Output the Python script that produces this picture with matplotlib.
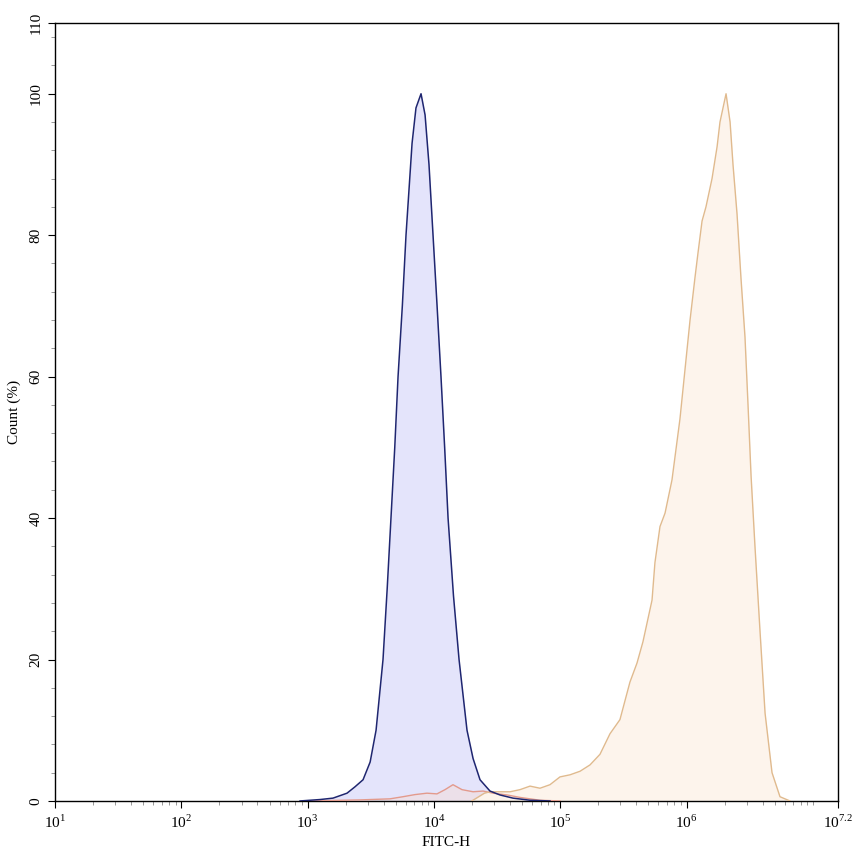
import numpy as np
import matplotlib
matplotlib.use("Agg")
import matplotlib.pyplot as plt
from matplotlib.ticker import MultipleLocator, NullFormatter

plt.rcParams["font.family"] = ["Liberation Serif", "DejaVu Serif"]
plt.rcParams["mathtext.fontset"] = "custom"
plt.rcParams["mathtext.rm"] = "Liberation Serif"

# histogram traces, x as log10(FITC-H), y as Count (%)
blue_log = [2.94, 3.098, 3.201, 3.312, 3.375, 3.439, 3.495, 3.542, 3.597, 3.630,
            3.660, 3.690, 3.716, 3.750, 3.779, 3.827, 3.858, 3.898, 3.930, 3.961,
            3.993, 4.025, 4.056, 4.085, 4.112, 4.155, 4.199, 4.262, 4.310, 4.365,
            4.444, 4.523, 4.626, 4.761, 4.919]
blue_pct = [0, 0.2, 0.4, 1.1, 2.0, 3.0, 5.5, 10, 20, 30,
            40, 50, 60, 70, 80, 93, 98, 100, 97, 90,
            80, 70, 60, 50, 40, 29, 20, 10, 6, 3,
            1.4, 0.85, 0.4, 0.1, 0]

red_log = [2.98, 3.415, 3.652, 3.755, 3.850, 3.945, 4.024, 4.088, 4.151, 4.222,
           4.310, 4.389, 4.468, 4.579, 4.682, 4.840, 5.0]
red_pct = [0, 0.15, 0.3, 0.6, 0.9, 1.1, 1.0, 1.6, 2.3, 1.6,
           1.3, 1.4, 1.1, 0.85, 0.5, 0.1, 0]

orange_log = [4.30, 4.40, 4.444, 4.603, 4.682, 4.761, 4.840, 4.919, 4.998, 5.078,
              5.157, 5.236, 5.315, 5.394, 5.473, 5.552, 5.608, 5.655, 5.727, 5.750,
              5.790, 5.830, 5.885, 5.948, 5.988, 6.028, 6.067, 6.091, 6.123, 6.154,
              6.202, 6.242, 6.265, 6.313, 6.345, 6.368, 6.400, 6.431, 6.463, 6.487,
              6.511, 6.542, 6.582, 6.622, 6.677, 6.740, 6.819]
orange_pct = [0, 1.1, 1.3, 1.3, 1.6, 2.1, 1.8, 2.3, 3.4, 3.7,
              4.2, 5.1, 6.6, 9.5, 11.5, 16.8, 19.5, 22.5, 28.4, 33.7,
              38.8, 40.7, 45.4, 54, 61, 68, 74, 77.5, 82, 84,
              88, 92.5, 96, 100, 96, 90, 83, 74, 65.6, 56,
              46, 36, 24, 12.4, 4, 0.6, 0]

ytick_vals = [0, 20, 40, 60, 80, 100, 110]
xtick_exp = [1, 2, 3, 4, 5, 6, 7.2]
xtick_labels = ["$10^{1}$", "$10^{2}$", "$10^{3}$", "$10^{4}$",
                "$10^{5}$", "$10^{6}$", "$10^{7.2}$"]

fig = plt.figure(figsize=(8.53, 8.56), dpi=100)
ax = fig.add_axes([0.0645, 0.0643, 0.918, 0.9088])

bx = 10 ** np.array(blue_log)
rx = 10 ** np.array(red_log)
ox = 10 ** np.array(orange_log)

ax.fill_between(bx, blue_pct, color="#e4e4fb", lw=0, zorder=1)
ax.fill_between(rx, red_pct, color="#f3dede", alpha=0.6, lw=0, zorder=2)
ax.fill_between(ox, orange_pct, color="#fdf4ec", lw=0, zorder=2)
ax.plot(rx, red_pct, color="#e39a8c", lw=1.0, zorder=3)
ax.plot(ox, orange_pct, color="#e0ba8e", lw=1.0, zorder=3)
ax.plot(bx, blue_pct, color="#1f2670", lw=1.1, zorder=4)

ax.set_xscale("log")
ax.set_xlim(10, 10 ** 7.2)
ax.set_ylim(0, 110)

ax.set_xticks([10 ** e for e in xtick_exp])
ax.set_xticklabels(xtick_labels, fontsize=11)
minor = [m * 10 ** d for d in range(1, 7) for m in range(2, 10)] + [1e7]
ax.set_xticks(minor, minor=True)
ax.xaxis.set_minor_formatter(NullFormatter())

ax.set_yticks(ytick_vals)
ax.set_yticklabels([str(v) for v in ytick_vals], rotation=90, va="center", fontsize=11)
ax.yaxis.set_minor_locator(MultipleLocator(4))

ax.tick_params(which="major", direction="out", length=5, width=0.8, color="black")
ax.tick_params(which="minor", direction="out", length=3, width=0.6, color="#888888")
ax.tick_params(axis="x", pad=4)
ax.tick_params(axis="y", pad=4)

for s in ax.spines.values():
    s.set_linewidth(1.0)
    s.set_color("black")

ax.set_xlabel("FITC-H", fontsize=11, labelpad=4)
ax.set_ylabel("Count (%)", fontsize=11, labelpad=6)

fig.savefig("out.png", dpi=100)
